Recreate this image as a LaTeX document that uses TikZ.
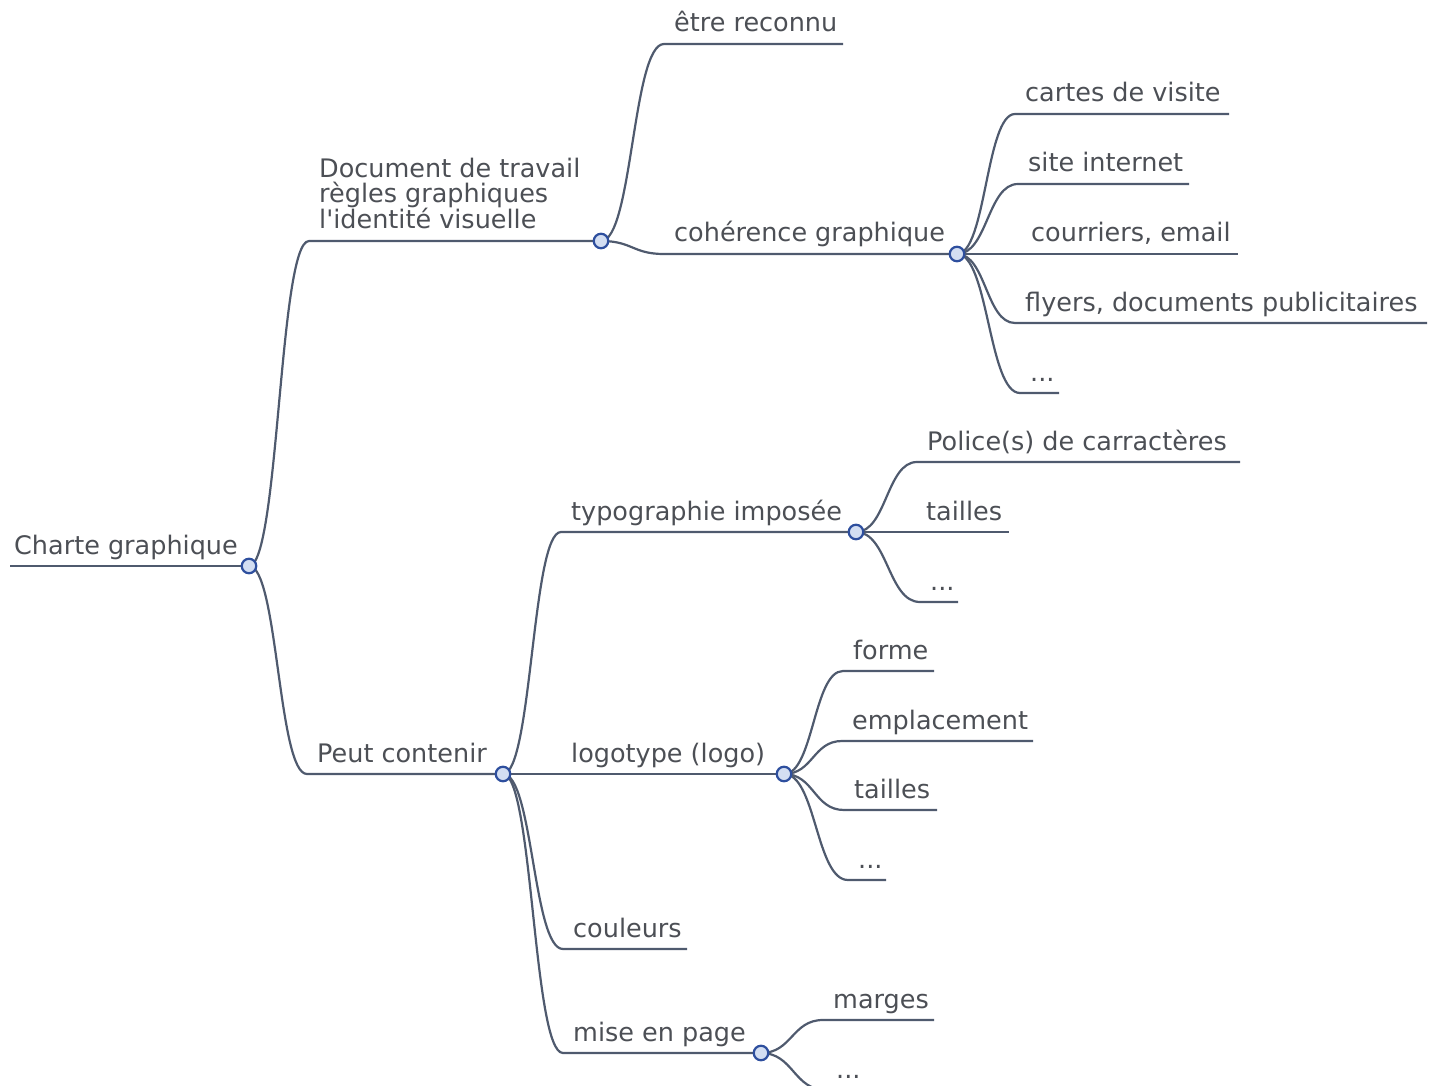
\documentclass[tikz,border=0pt]{standalone}
\usepackage{fontspec}
\setmainfont{DejaVu Sans}[Ligatures=TeXOff]
\usetikzlibrary{calc}
\definecolor{linec}{HTML}{4F5A6E}
\definecolor{textc}{HTML}{4C4F55}
\definecolor{dotfill}{HTML}{D3DEF2}
\definecolor{dotdraw}{HTML}{2E4F9E}
\tikzset{
  lbl/.style={anchor=base west, inner sep=0pt, text=textc, font=\fontsize{25.5}{25}\selectfont, align=left},
  link/.style={draw=linec, line width=2.2pt},
  dot/.style={circle, draw=dotdraw, fill=dotfill, line width=2.2pt, minimum size=14.5pt, inner sep=0pt}
}
% #1 name, #2 text x, #3 line start x, #4 line end x, #5 y, #6 text
\newcommand\mmnode[6]{%
  \coordinate (#1-s) at (#3,#5);
  \coordinate (#1-e) at (#4,#5);
  \node[lbl] (#1) at (#2,#5-12) {#6};
}
\newcommand\mmlink[2]{%
  \coordinate (m#1#2) at ($(#1-e)!0.5!(#2-s)$);
  \draw[link] (#1-e) .. controls (m#1#2 |- #1-e) and (m#1#2 |- #2-s) .. (#2-s) -- (#2-e);
}
\begin{document}
\begin{tikzpicture}[x=1pt,y=-1pt]
\useasboundingbox (0,0) rectangle (1438,1086);
\mmnode{root}{14}{10}{249}{566}{Charte graphique}
\mmnode{doc}{319}{309}{601}{241}{Document de travail\\règles graphiques\\l'identité visuelle}
\mmnode{peut}{317}{307}{503}{774}{Peut contenir}
\mmnode{etre}{674}{664}{843}{44}{être reconnu}
\mmnode{coh}{674}{664}{957}{254}{cohérence graphique}
\mmnode{cartes}{1025}{1015}{1229}{114}{cartes de visite}
\mmnode{site}{1028}{1018}{1189}{184}{site internet}
\mmnode{courr}{1031}{1021}{1238}{254}{courriers, email}
\mmnode{flyers}{1025}{1015}{1427}{323}{flyers, documents publicitaires}
\mmnode{dotsa}{1030}{1020}{1059}{393}{...}
\mmnode{typo}{571}{561}{856}{532}{typographie imposée}
\mmnode{logo}{571}{561}{784}{774}{logotype (logo)}
\mmnode{coul}{573}{563}{687}{949}{couleurs}
\mmnode{mise}{573}{563}{761}{1053}{mise en page}
\mmnode{police}{927}{917}{1240}{462}{Police(s) de carractères}
\mmnode{taila}{926}{916}{1009}{532}{tailles}
\mmnode{dotsb}{930}{920}{958}{602}{...}
\mmnode{forme}{853}{843}{934}{671}{forme}
\mmnode{empl}{852}{842}{1033}{741}{emplacement}
\mmnode{tailb}{854}{844}{937}{810}{tailles}
\mmnode{dotsc}{858}{848}{886}{880}{...}
\mmnode{marges}{833}{823}{934}{1020}{marges}
\mmnode{dotsd}{836}{826}{880}{1090}{...}

\draw[link] (root-s) -- (root-e);
\mmlink{root}{doc}
\mmlink{root}{peut}
\mmlink{doc}{etre}
\mmlink{doc}{coh}
\mmlink{coh}{cartes}
\mmlink{coh}{site}
\mmlink{coh}{courr}
\mmlink{coh}{flyers}
\mmlink{coh}{dotsa}
\mmlink{peut}{typo}
\mmlink{peut}{logo}
\mmlink{peut}{coul}
\mmlink{peut}{mise}
\mmlink{typo}{police}
\mmlink{typo}{taila}
\mmlink{typo}{dotsb}
\mmlink{logo}{forme}
\mmlink{logo}{empl}
\mmlink{logo}{tailb}
\mmlink{logo}{dotsc}
\mmlink{mise}{marges}
\mmlink{mise}{dotsd}

\foreach \n in {root,doc,peut,coh,typo,logo,mise}
  \node[dot] at (\n-e) {};
\end{tikzpicture}
\end{document}
